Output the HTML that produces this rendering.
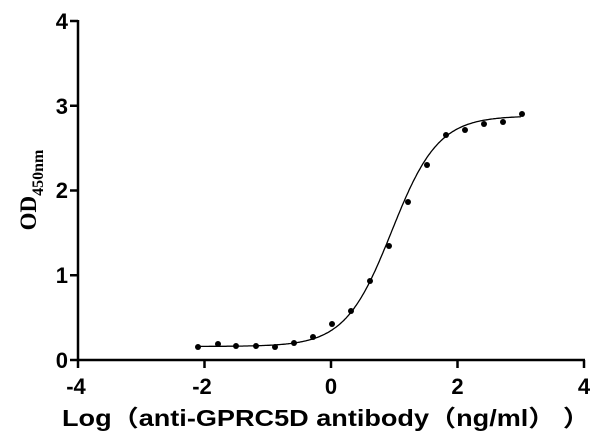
<!DOCTYPE html>
<html><head><style>body{margin:0;background:#fff}svg{display:block}</style></head>
<body>
<svg width="600" height="447" xmlns="http://www.w3.org/2000/svg">
<g stroke="#000" stroke-width="2.5" fill="none">
<line x1="78" y1="20" x2="78" y2="361"/>
<line x1="77" y1="360" x2="585" y2="360"/>
<line x1="70" y1="21" x2="78" y2="21"/>
<line x1="70" y1="105.75" x2="78" y2="105.75"/>
<line x1="70" y1="190.5" x2="78" y2="190.5"/>
<line x1="70" y1="275.25" x2="78" y2="275.25"/>
<line x1="70" y1="360" x2="78" y2="360"/>
<line x1="78" y1="360" x2="78" y2="368"/>
<line x1="204.5" y1="360" x2="204.5" y2="368"/>
<line x1="331" y1="360" x2="331" y2="368"/>
<line x1="457.5" y1="360" x2="457.5" y2="368"/>
<line x1="584" y1="360" x2="584" y2="368"/>
</g>
<g font-family="Liberation Sans, sans-serif" font-weight="bold" font-size="22" text-anchor="end">
<text x="68" y="29">4</text><text x="68" y="114">3</text><text x="68" y="198">2</text><text x="68" y="283">1</text><text x="68" y="368">0</text>
</g>
<g font-family="Liberation Sans, sans-serif" font-weight="bold" font-size="22" text-anchor="middle">
<text x="76" y="394">-4</text><text x="202" y="394">-2</text><text x="331" y="394">0</text><text x="457.5" y="394">2</text><text x="584" y="394">4</text>
</g>
<text x="62" y="426" textLength="528" lengthAdjust="spacingAndGlyphs" font-family="Liberation Sans, 'Noto Sans CJK SC', sans-serif" font-weight="bold" font-size="23">Log（anti-GPRC5D antibody（ng/ml） ）</text>
<text transform="translate(36,190) rotate(-90)" text-anchor="middle" font-family="Liberation Serif, serif" font-weight="bold" font-size="23">OD<tspan font-size="16" dy="7">450nm</tspan></text>
<path id="curve" fill="none" stroke="#000" stroke-width="1.3"/>
<g id="dots" fill="#000"></g>
</svg>
<script>
var pts=[[198,347],[218,344],[236,346],[256,346],[275,347],[294,343],[313,337],[332,324],[351,311],[370,281],[389,246],[408,202],[427,165],[446,135],[465,130],[484,124],[503,122],[522,114]];
var g=document.getElementById('dots');
pts.forEach(function(p){var c=document.createElementNS('http://www.w3.org/2000/svg','circle');c.setAttribute('cx',p[0]);c.setAttribute('cy',p[1]);c.setAttribute('r',3);g.appendChild(c);});
var d='';
for(var x=-2.1;x<=3.001;x+=0.02){var v=0.16+2.72/(1+Math.pow(10,(0.96-x)*1.18));var px=331+x*63.25,py=360-v*84.75;d+=(d?'L':'M')+px.toFixed(1)+','+py.toFixed(1);}
document.getElementById('curve').setAttribute('d',d);
</script>
</body></html>
